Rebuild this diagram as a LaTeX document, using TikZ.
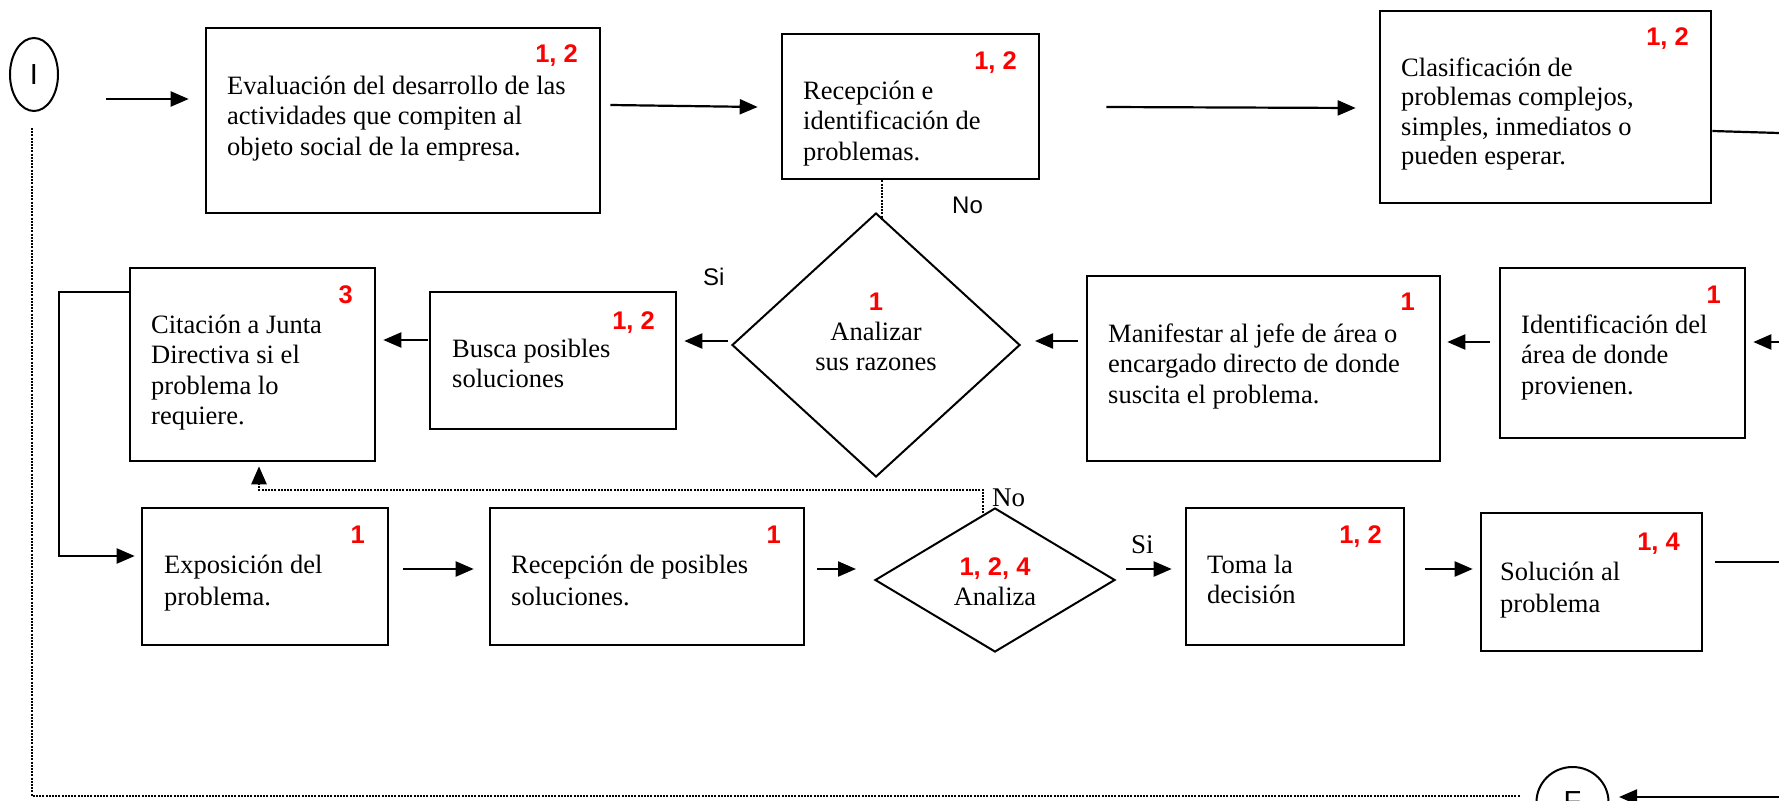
\documentclass[tikz,border=0pt]{standalone}
\usepackage{fontspec}
\setmainfont{Liberation Serif}
\newfontfamily\arialfont{Liberation Sans}
\usetikzlibrary{arrows.meta,shapes.geometric,calc}
\definecolor{numred}{RGB}{255,0,0}
% multi-line text blocks whose baseline is that of their first line
\newcommand{\leftlines}[1]{\begin{tabular}[t]{@{}l@{}}#1\end{tabular}}
\newcommand{\midlines}[1]{\begin{tabular}[t]{@{}c@{}}#1\end{tabular}}

\begin{document}
\begin{tikzpicture}[x=1pt,y=-1pt,
  stepbox/.style={draw,line width=2.6pt,inner sep=0pt,rectangle},
  decision/.style={draw,line width=2pt,diamond,inner sep=0pt},
  terminal/.style={draw,line width=2pt,ellipse,inner sep=0pt,
    font=\arialfont\fontsize{29}{30}\selectfont},
  body/.style={inner sep=0pt,anchor=base west,font=\fontsize{26.5}{30.5}\selectfont},
  midbody/.style={inner sep=0pt,anchor=base,font=\fontsize{26.5}{30.5}\selectfont},
  num/.style={inner sep=0pt,text=numred,anchor=base east,
    font=\arialfont\bfseries\fontsize{25.5}{27}\selectfont},
  tag/.style={inner sep=0pt,anchor=base west,font=\arialfont\fontsize{24}{26}\selectfont},
  seriftag/.style={inner sep=0pt,anchor=base west,font=\fontsize{27}{30}\selectfont},
  tip/.style={-{Triangle[length=18pt,width=15pt]}},
  flow/.style={line width=2.2pt,tip},
  link/.style={line width=2.2pt},
  dotline/.style={line width=2.6pt,dash pattern=on 2pt off 1.2pt},
]
\fill[white] (0,0) rectangle (1779,800);
\useasboundingbox (0,0) rectangle (1779,800);
\clip (0,0) rectangle (1779,800);

% ---------- terminals ----------
\node[terminal,minimum width=48pt,minimum height=73pt] (I) at (34,74.5) {I};
\node[terminal,minimum width=72pt,minimum height=70pt] (F) at (1572.5,802) {F};

% ---------- first row ----------
\node[stepbox,minimum width=394pt,minimum height=185pt] (ev) at (403,120.5) {};
\node[body] (evt) at (227,94) {\leftlines{Evaluación del desarrollo de las\\actividades que compiten al\\objeto social de la empresa.}};
\node[num] (evn) at (578,63) {1, 2};

\node[stepbox,minimum width=257pt,minimum height=145pt] (rec) at (910.5,106.5) {};
\node[body] (rect) at (803,99) {\leftlines{Recepción e\\identificación de\\problemas.}};
\node[num] (recn) at (1017,70) {1, 2};

\node[stepbox,minimum width=331pt,minimum height=192pt] (cla) at (1545.5,107) {};
\node[body,font=\fontsize{26.5}{29.5}\selectfont] (clat) at (1401,76) {\leftlines{Clasificación de\\problemas complejos,\\simples, inmediatos o\\pueden esperar.}};
\node[num] (clan) at (1689,46) {1, 2};

% ---------- second row ----------
\node[stepbox,minimum width=245pt,minimum height=193pt] (cit) at (252.5,364.5) {};
\node[body] (citt) at (151,333) {\leftlines{Citación a Junta\\Directiva si el\\problema lo\\requiere.}};
\node[num] (citn) at (353,303) {3};

\node[stepbox,minimum width=246pt,minimum height=137pt] (bus) at (553,360.5) {};
\node[body] (bust) at (452,357) {\leftlines{Busca posibles\\soluciones}};
\node[num] (busn) at (655,329) {1, 2};

\node[decision,minimum width=288pt,minimum height=264pt] (ana) at (876,345) {};
\node[num,anchor=base] (anan) at (876,310) {1};
\node[midbody] (anat) at (876,340) {\midlines{Analizar\\sus razones}};

\node[stepbox,minimum width=353pt,minimum height=185pt] (man) at (1263.5,368.5) {};
\node[body] (mant) at (1108,342) {\leftlines{Manifestar al jefe de área o\\encargado directo de donde\\suscita el problema.}};
\node[num] (mann) at (1415,310) {1};

\node[stepbox,minimum width=245pt,minimum height=170pt] (ide) at (1622.5,353) {};
\node[body] (idet) at (1521,333) {\leftlines{Identificación del\\área de donde\\provienen.}};
\node[num] (iden) at (1721,303) {1};

% ---------- third row ----------
\node[stepbox,minimum width=246pt,minimum height=137pt] (exp) at (265,576.5) {};
\node[body,font=\fontsize{26.5}{32}\selectfont] (expt) at (164,573) {\leftlines{Exposición del\\problema.}};
\node[num] (expn) at (365,543) {1};

\node[stepbox,minimum width=314pt,minimum height=137pt] (rps) at (647,576.5) {};
\node[body,font=\fontsize{26.5}{32}\selectfont] (rpst) at (511,573) {\leftlines{Recepción de posibles\\soluciones.}};
\node[num] (rpsn) at (781,543) {1};

\node[decision,minimum width=240pt,minimum height=144pt] (anz) at (995,580) {};
\node[num,anchor=base] (anzn) at (995,575) {1, 2, 4};
\node[midbody] (anzt) at (995,605) {Analiza};

\node[stepbox,minimum width=218pt,minimum height=137pt] (tom) at (1295,576.5) {};
\node[body] (tomt) at (1207,573) {\leftlines{Toma la\\decisión}};
\node[num] (tomn) at (1382,543) {1, 2};

\node[stepbox,minimum width=221pt,minimum height=138pt] (sol) at (1591.5,582) {};
\node[body,font=\fontsize{26.5}{32}\selectfont] (solt) at (1500,580) {\leftlines{Solución al\\problema}};
\node[num] (soln) at (1680,550) {1, 4};

% ---------- branch labels ----------
\node[tag] (no1) at (952,213) {No};
\node[tag] (si1) at (703,285) {Si};
\node[seriftag] (no2) at (992,506) {No};
\node[seriftag] (si2) at (1131,553) {Si};

% ---------- free ends at the right border ----------
\coordinate (outA) at (1779,133);
\coordinate (inB) at (1779,342);
\coordinate (outC) at (1779,562);
\coordinate (inD) at (1779,797);

% ---------- connectors ----------
\draw[flow] ($(I.east)+(47,24.5)$) -- ($(ev.west)+(-16,-21.5)$);
\draw[flow] ($(ev.east)+(9,-15.5)$) -- ($(rec.west)+(-23,0.5)$);
\draw[flow] ($(rec.east)+(66,0.5)$) -- ($(cla.west)+(-23,1)$);
\draw[link] ($(cla.east)+(0,24)$) -- (outA);

\draw[flow] (inB) -- ($(ide.east)+(7,-11)$);
\draw[flow] ($(ide.west)+(-9,-11)$) -- ($(man.east)+(6,-26.5)$);
\draw[flow] ($(man.west)+(-8,-27.5)$) -- ($(ana.east)+(14,-4)$);
\draw[flow] ($(ana.west)+(-3,-4)$) -- ($(bus.east)+(7,-19.5)$);
\draw[flow] ($(bus.west)+(-1,-20.5)$) -- ($(cit.east)+(7,-24.5)$);
\draw[dotline] ($(rec.south)+(-28.5,0)$) -- ($(ana.north)+(6,8)$);

\draw[flow] ($(cit.west)+(0,-72.5)$) -- ++(-70,0) |- ($(exp.west)+(-6,-20.5)$);
\draw[flow] ($(exp.east)+(14,-7.5)$) -- ($(rps.west)+(-15,-7.5)$);
\draw[flow] ($(rps.east)+(12,-7.5)$) -- ($(anz.west)+(-18,-11)$);
\draw[flow] ($(anz.east)+(10,-11)$) -- ($(tom.west)+(-13,-7.5)$);
\draw[flow] ($(tom.east)+(20,-7.5)$) -- ($(sol.west)+(-7,-13)$);
\draw[link] ($(sol.east)+(12,-20)$) -- (outC);
\draw[dotline,tip] ($(anz.north)+(-12,6)$) -- ++(0,-23) -| ($(cit.south)+(6.5,4)$);

\draw[dotline] ($(I.south)+(-2,16)$) |- ($(F.west)+(-15.5,-6)$);
\draw[flow] (inD) -- ($(F.east)+(9.5,-5)$);
\end{tikzpicture}
\end{document}
